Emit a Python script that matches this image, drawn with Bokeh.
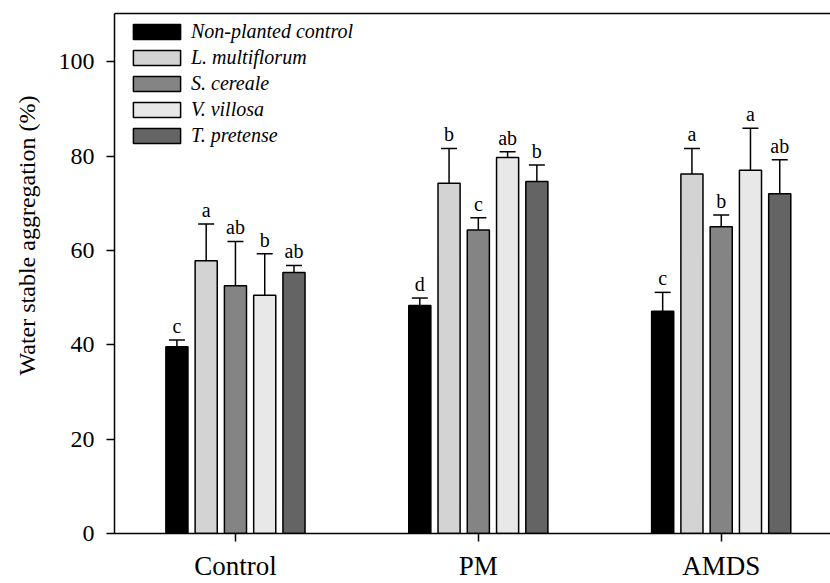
from bokeh.plotting import figure
from bokeh.models import (ColumnDataSource, Range1d, FixedTicker, LinearAxis, Legend,
                          LegendItem, Whisker, TeeHead)
from bokeh.embed import file_html
from bokeh.resources import INLINE
from bokeh.core.properties import value

# ---------------- data ----------------
groups = ["Control", "PM", "AMDS"]
series = ["Non-planted control", "L. multiflorum", "S. cereale", "V. villosa", "T. pretense"]
colors = ["#000000", "#d3d3d3", "#848484", "#e8e8e8", "#646464"]
y_title = "Water stable aggregation (%)"

non_planted_mean = [39.6, 48.3, 47.1]
non_planted_err = [1.4, 1.6, 4.0]
non_planted_letter = ["c", "d", "c"]

l_multiflorum_mean = [57.8, 74.2, 76.2]
l_multiflorum_err = [7.8, 7.4, 5.4]
l_multiflorum_letter = ["a", "b", "a"]

s_cereale_mean = [52.5, 64.3, 65.0]
s_cereale_err = [9.4, 2.6, 2.5]
s_cereale_letter = ["ab", "c", "b"]

v_villosa_mean = [50.5, 79.7, 77.0]
v_villosa_err = [8.8, 1.2, 8.9]
v_villosa_letter = ["b", "ab", "a"]

t_pretense_mean = [55.3, 74.6, 72.0]
t_pretense_err = [1.5, 3.5, 7.2]
t_pretense_letter = ["ab", "b", "ab"]

y_ticks = [0, 20, 40, 60, 80, 100]

means = [non_planted_mean, l_multiflorum_mean, s_cereale_mean, v_villosa_mean, t_pretense_mean]
errs = [non_planted_err, l_multiflorum_err, s_cereale_err, v_villosa_err, t_pretense_err]
letters = [non_planted_letter, l_multiflorum_letter, s_cereale_letter, v_villosa_letter, t_pretense_letter]

FONT = "Liberation Serif"

p = figure(width=830, height=583, output_backend="svg", toolbar_location=None,
           x_range=Range1d(-0.498, 2.45), y_range=Range1d(0, 110.2),
           min_border_left=114, min_border_right=0, min_border_top=13, min_border_bottom=50,
           title=y_title, title_location="left")
p.grid.visible = False
p.outline_line_color = None
p.background_fill_color = "white"
p.border_fill_color = "white"

# y-axis title drawn as a left-side title, placed towards the upper part as in the reference
p.title.align = "right"
p.title.vertical_align = "top"
p.title.offset = 82
p.title.standoff = 27
p.title.text_font = FONT
p.title.text_font_size = "24px"
p.title.text_font_style = "normal"
p.title.text_color = "black"

spacing = 0.1205
bar_w = 0.091
items = []
for j, name in enumerate(series):
    xs = [i + (j - 2) * spacing for i in range(len(groups))]
    tops = [m + e for m, e in zip(means[j], errs[j])]
    src = ColumnDataSource(dict(x=xs, top=means[j], upper=tops, letter=letters[j]))
    r = p.vbar(x="x", top="top", width=bar_w, source=src, fill_color=colors[j],
               line_color="black", line_width=1.5)
    w = Whisker(base="x", lower="top", upper="upper", source=src, dimension="height",
                line_color="black", line_width=1.5, lower_head=None,
                upper_head=TeeHead(size=16, line_color="black", line_width=1.5),
                level="overlay")
    p.add_layout(w)
    p.text(x="x", y="upper", text="letter", source=src, text_align="center",
           text_baseline="bottom", y_offset=-3, text_font=value(FONT),
           text_font_size="20px", text_color="black")
    items.append(LegendItem(label=name, renderers=[r]))

legend = Legend(items=items, location=(13, 385), orientation="vertical",
                glyph_width=59, glyph_height=19, label_height=26, spacing=0,
                padding=0, margin=0, label_standoff=5,
                label_text_font=FONT, label_text_font_style="italic",
                label_text_font_size="20px", label_text_color="black",
                background_fill_alpha=0, border_line_color=None)
p.add_layout(legend)

# y axis
ya = p.yaxis[0]
ya.ticker = FixedTicker(ticks=y_ticks)
ya.major_label_text_font = FONT
ya.major_label_text_font_size = "24px"
ya.major_label_text_color = "black"
ya.major_label_standoff = 12
ya.major_tick_out = 8
ya.major_tick_in = 0
ya.minor_tick_line_color = None
ya.axis_line_width = 1.5
ya.major_tick_line_width = 1.5

# x axis
xa = p.xaxis[0]
xa.ticker = FixedTicker(ticks=list(range(len(groups))))
xa.major_label_overrides = {i: g for i, g in enumerate(groups)}
xa.major_label_text_font = FONT
xa.major_label_text_font_size = "27px"
xa.major_label_text_color = "black"
xa.major_label_standoff = 9
xa.major_tick_out = 8
xa.major_tick_in = 0
xa.minor_tick_line_color = None
xa.axis_line_width = 1.5
xa.major_tick_line_width = 1.5

# top frame line
top = LinearAxis(ticker=FixedTicker(ticks=[]), major_tick_out=0, major_tick_in=0,
                 minor_tick_out=0, minor_tick_in=0, axis_line_width=1.5,
                 major_label_text_font_size="0px")
p.add_layout(top, "above")

open("out.html", "w").write(file_html(p, INLINE))
